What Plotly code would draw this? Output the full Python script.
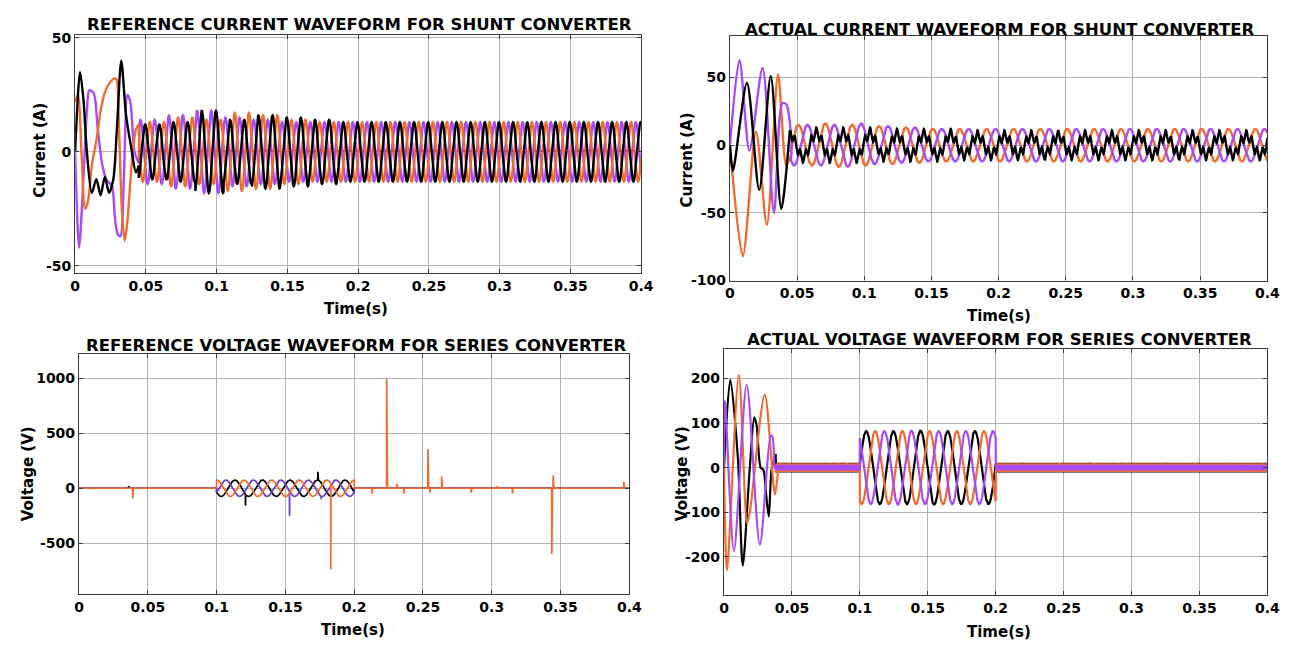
import numpy as np
import plotly.graph_objects as go

W, H = 1298, 646
DT = 0.0001
F0 = 50.0            # fundamental (20 ms period)
F_P1 = 100.0         # apparent frequency of the reference shunt current (≈14 px per cycle)
CYCLE = 0.02         # amplitude lists below hold one value per 20 ms
F_RIP = 1000.0       # switching ripple seen as a solid band

ORANGE = "#F26B2E"
PURPLE = "#A64BF5"
BLACK = "#000000"
DPURPLE = "#6A3DC8"
FONT = "DejaVu Sans"

X_TICKS = [0, 0.05, 0.1, 0.15, 0.2, 0.25, 0.3, 0.35, 0.4]
X_TICK_TEXT = ["0", "0.05", "0.1", "0.15", "0.2", "0.25", "0.3", "0.35", "0.4"]

# ---------------- Panel 1: reference current, shunt converter ----------------
P1_Y_TICKS = [-50, 0, 50]
P1_BLACK_KT = [0.000, 0.0035, 0.0060, 0.0083, 0.0118, 0.015, 0.018, 0.021, 0.024, 0.027, 0.0295, 0.0326, 0.036, 0.0396, 0.043, 0.045]
P1_BLACK_KV = [0, 35, 22, 0, -18, -12, -19, -11, -18, -12, 10, 40, 16, 2, -9, -6]
P1_ORANGE_KT = [0.000, 0.002, 0.0045, 0.007, 0.009, 0.012, 0.015, 0.018, 0.021, 0.024, 0.027, 0.029, 0.031, 0.033, 0.035, 0.037, 0.040, 0.043, 0.045]
P1_ORANGE_KV = [22, 25, 0, -25, -22, -5, 5, 18, 26, 30, 32, 32, 10, -25, -39, -30, -5, 10, 12]
P1_PURPLE_KT = [0.000, 0.0028, 0.006, 0.0085, 0.010, 0.013, 0.016, 0.019, 0.022, 0.026, 0.028, 0.030, 0.032, 0.0345, 0.037, 0.039, 0.042, 0.045]
P1_PURPLE_KV = [0, -42, -10, 20, 27, 26, 10, -5, -12, -15, -28, -36, -37, -10, 25, 22, 0, -5]
P1_T0 = 0.045
P1_BLACK_AMP = [12, 13, 18, 14, 16, 15, 14, 13, 13, 13, 13, 13, 13, 13, 13, 13, 13, 13]
P1_ORANGE_AMP = [13, 15, 14, 17, 16, 14, 13, 13, 13, 13, 13, 13, 13, 13, 13, 13, 13, 13]
P1_PURPLE_AMP = [14, 16, 18, 15, 14, 13, 13, 13, 13, 13, 13, 13, 13, 13, 13, 13, 13, 13]
P1_PEAK = [0.0495, 0.0528, 0.0462]   # black, orange, purple
P1_NEUTRAL = 0.5

# ---------------- Panel 2: actual current, shunt converter ----------------
P2_Y_TICKS = [-100, -50, 0, 50]
P2_PURPLE_KT = [0.000, 0.0071, 0.0145, 0.0243, 0.0328, 0.039, 0.042, 0.046]
P2_PURPLE_KV = [0, 63, -4, 57, -50, 31, 30, 0]
P2_ORANGE_KT = [0.000, 0.0096, 0.0194, 0.0275, 0.0358, 0.042, 0.046]
P2_ORANGE_KV = [0, -82, 10, -59, 52, -15, -5]
P2_BLACK_KT = [0.000, 0.0022, 0.0127, 0.0218, 0.0304, 0.0382, 0.0446]
P2_BLACK_KV = [0, -19, 46, -33, 51, -47, 11]
P2_T0 = 0.045
P2_BLACK_AMP = [9, 9, 9, 8, 8, 8, 7, 7, 7, 7, 7, 7, 7, 7, 7, 7, 7, 7]
P2_BLACK_H5 = 4.0
P2_ORANGE_AMP = [15, 16, 15, 14, 13, 12, 12, 12, 12, 12, 12, 12, 12, 12, 12, 12, 12, 12]
P2_PURPLE_AMP = [15, 15, 16, 14, 13, 12, 12, 12, 12, 12, 12, 12, 12, 12, 12, 12, 12, 12]
P2_PEAK = [0.0443, 0.0510, 0.0577]   # black, orange, purple

# ---------------- Panel 3: reference voltage, series converter ----------------
P3_Y_TICKS = [-500, 0, 500, 1000]
P3_SAG_T = [0.1, 0.2]
P3_BLACK_AMP = [75, 75, 75, 75, 75]
P3_DPURPLE_AMP = [75, 75, 75, 75, 75]
P3_ORANGE_AMP = [75, 75, 75, 75, 75]
P3_PEAK = [0.1133, 0.1067, 0.1000]   # black, dark purple, orange
P3_ORANGE_SPIKE_T = [0.039, 0.183, 0.213, 0.2236, 0.231, 0.236, 0.2536, 0.255, 0.2636, 0.285, 0.304, 0.315, 0.3436, 0.3446, 0.396]
P3_ORANGE_SPIKE_V = [-90, -740, -50, 1000, 40, -50, 357, -40, 107, -40, 20, -50, -600, 116, 60]
P3_BLACK_SPIKE_T = [0.036, 0.121, 0.1736]
P3_BLACK_SPIKE_V = [20, -160, 150]
P3_DPURPLE_SPIKE_T = [0.153, 0.176]
P3_DPURPLE_SPIKE_V = [-250, -100]

# ---------------- Panel 4: actual voltage, series converter ----------------
P4_Y_TICKS = [-200, -100, 0, 100, 200]
P4_BLACK_KT = [0.000, 0.0046, 0.0102, 0.0138, 0.019, 0.0223, 0.024, 0.027, 0.029, 0.031, 0.033, 0.035, 0.038]
P4_BLACK_KV = [0, 197, 22, -220, 0, 113, 95, 0, -5, -60, -110, -5, 30]
P4_ORANGE_KT = [0.000, 0.0022, 0.0109, 0.017, 0.019, 0.030, 0.0375, 0.040]
P4_ORANGE_KV = [0, -231, 208, -125, -100, 164, -60, 0]
P4_PURPLE_KT = [0.000, 0.0007, 0.0073, 0.0167, 0.0264, 0.0344, 0.0355, 0.037]
P4_PURPLE_KV = [0, 150, -187, 186, -173, 72, 70, 0]
P4_T0 = 0.038
P4_SAG_T = [0.1, 0.2]
P4_BLACK_AMP = [82, 82, 83, 82, 82]
P4_ORANGE_AMP = [82, 82, 82, 82, 82]
P4_PURPLE_AMP = [82, 83, 82, 82, 82]
P4_PEAK = [0.1047, 0.1113, 0.1180]   # black, orange, purple
P4_RIPPLE = [11, 10, 6]               # black, orange, purple band half-width


def steady(t0, t1, amps, peak_t, freq=F0, h5=0.0):
    t = np.arange(t0, t1 + DT / 2, DT)
    k = np.clip(((t - t0) / CYCLE).astype(int), 0, len(amps) - 1)
    a = np.asarray(amps, float)[k]
    ph = 2 * np.pi * freq * (t - peak_t)
    return t, a * np.cos(ph) + h5 * np.cos(5 * ph)


def ripple(t0, t1, amp, phase):
    t = np.arange(t0, t1 + DT / 2, DT)
    return t, amp * np.cos(2 * np.pi * F_RIP * t + phase)


def px_x(p):
    return p / W


def px_y(p):
    return 1 - p / H


fig = go.Figure()

DOMS = {
    1: (63, 637, 22, 265),
    2: (727, 1272, 23, 273),
    3: (67, 625, 348, 593),
    4: (721, 1272, 343, 594),
}
YR = {1: [-53, 51.5], 2: [-100, 81], 3: [-964, 1223], 4: [-286, 266]}
YT = {1: P1_Y_TICKS, 2: P2_Y_TICKS, 3: P3_Y_TICKS, 4: P4_Y_TICKS}


def ax(i):
    return ("x" if i == 1 else f"x{i}"), ("y" if i == 1 else f"y{i}")


def add(i, t, v, color, width=2.0, shape="linear", dash="solid"):
    xa, ya = ax(i)
    line = dict(color=color, width=width, shape=shape, dash=dash)
    if shape == "spline":
        line["smoothing"] = 0.8
    fig.add_trace(go.Scatter(x=t, y=v, mode="lines", xaxis=xa, yaxis=ya, line=line,
                             hoverinfo="skip", showlegend=False))


def wave(i, kt, kv, t0, amps, peak, color, freq=F0, h5=0.0, width=2.4):
    add(i, kt, kv, color, width, shape="spline")
    t, v = steady(t0, 0.4, amps, peak, freq, h5)
    add(i, np.concatenate([[kt[-1]], t]), np.concatenate([[kv[-1]], v]), color, width)


# ---- panel 1
wave(1, P1_PURPLE_KT, P1_PURPLE_KV, P1_T0, P1_PURPLE_AMP, P1_PEAK[2], PURPLE, freq=F_P1)
wave(1, P1_ORANGE_KT, P1_ORANGE_KV, P1_T0, P1_ORANGE_AMP, P1_PEAK[1], ORANGE, freq=F_P1)
wave(1, P1_BLACK_KT, P1_BLACK_KV, P1_T0, P1_BLACK_AMP, P1_PEAK[0], BLACK, freq=F_P1)
add(1, [P1_T0, 0.4], [P1_NEUTRAL, P1_NEUTRAL], "#B0301E", width=1.2, dash="dot")

# ---- panel 2
wave(2, P2_ORANGE_KT, P2_ORANGE_KV, P2_T0, P2_ORANGE_AMP, P2_PEAK[1], ORANGE)
wave(2, P2_PURPLE_KT, P2_PURPLE_KV, P2_T0, P2_PURPLE_AMP, P2_PEAK[2], PURPLE)
wave(2, P2_BLACK_KT, P2_BLACK_KV, P2_T0, P2_BLACK_AMP, P2_PEAK[0], BLACK, h5=P2_BLACK_H5)


# ---- panel 3
def ref_voltage(amps, peak, spike_t, spike_v):
    t = np.arange(0, 0.4 + DT / 2, DT)
    v = np.zeros_like(t)
    ts, vs = steady(P3_SAG_T[0], P3_SAG_T[1], amps, peak)
    i0 = int(round(P3_SAG_T[0] / DT))
    v[i0:i0 + len(vs)] = vs
    for st, sv in zip(spike_t, spike_v):
        v[int(round(st / DT))] = sv
    return t, v


for amps, pk, stt, svv, col in [
    (P3_BLACK_AMP, P3_PEAK[0], P3_BLACK_SPIKE_T, P3_BLACK_SPIKE_V, BLACK),
    (P3_DPURPLE_AMP, P3_PEAK[1], P3_DPURPLE_SPIKE_T, P3_DPURPLE_SPIKE_V, DPURPLE),
    (P3_ORANGE_AMP, P3_PEAK[2], P3_ORANGE_SPIKE_T, P3_ORANGE_SPIKE_V, ORANGE),
]:
    t, v = ref_voltage(amps, pk, stt, svv)
    add(3, t, v, col, width=1.7)


# ---- panel 4
def act_voltage(amps, peak, rip, phase):
    t1, v1 = ripple(P4_T0, P4_SAG_T[0] - DT, rip, phase)
    t2, v2 = steady(P4_SAG_T[0], P4_SAG_T[1], amps, peak)
    t3, v3 = ripple(P4_SAG_T[1] + DT, 0.4, rip, phase)
    return np.concatenate([t1, t2, t3]), np.concatenate([v1, v2, v3])


for kt, kv, amps, pk, rip, phs, col in [
    (P4_BLACK_KT, P4_BLACK_KV, P4_BLACK_AMP, P4_PEAK[0], P4_RIPPLE[0], 0.0, BLACK),
    (P4_ORANGE_KT, P4_ORANGE_KV, P4_ORANGE_AMP, P4_PEAK[1], P4_RIPPLE[1], 2.1, ORANGE),
    (P4_PURPLE_KT, P4_PURPLE_KV, P4_PURPLE_AMP, P4_PEAK[2], P4_RIPPLE[2], 4.2, PURPLE),
]:
    add(4, kt, kv, col, width=2.2, shape="spline")
    t, v = act_voltage(amps, pk, rip, phs)
    add(4, np.concatenate([[kt[-1]], t]), np.concatenate([[kv[-1]], v]), col, width=2.2)

# ---- axes
layout = {}
for i, (l, r, tp, bt) in DOMS.items():
    xk = "xaxis" if i == 1 else f"xaxis{i}"
    yk = "yaxis" if i == 1 else f"yaxis{i}"
    xa, ya = ax(i)
    common = dict(showgrid=True, gridcolor="#B4B4B4", gridwidth=1,
                  showline=True, linecolor="#3A3A3A", linewidth=1.3, mirror="ticks",
                  ticks="inside", ticklen=4, tickcolor="#3A3A3A",
                  tickfont=dict(family=FONT, size=14, color="black", weight="bold"),
                  zeroline=False, fixedrange=True)
    layout[xk] = dict(domain=[px_x(l), px_x(r)], range=[0, 0.4], anchor=ya,
                      tickvals=X_TICKS, ticktext=X_TICK_TEXT, **common)
    layout[yk] = dict(domain=[px_y(bt), px_y(tp)], range=YR[i], anchor=xa,
                      tickvals=YT[i], ticktext=[str(v) for v in YT[i]], **common)

TITLES = [
    ("REFERENCE CURRENT WAVEFORM FOR SHUNT CONVERTER", 351, 12),
    ("ACTUAL CURRENT WAVEFORM FOR SHUNT CONVERTER", 1000, 17),
    ("REFERENCE VOLTAGE WAVEFORM FOR SERIES CONVERTER", 348, 339),
    ("ACTUAL VOLTAGE WAVEFORM FOR SERIES CONVERTER", 1000, 333),
]
XLABELS = [("Time(s)", 348, 302), ("Time(s)", 1000, 309), ("Time(s)", 345, 630), ("Time(s)", 1000, 632)]
YLABELS = [("Current (A)", 28, 140), ("Current (A)", 683, 150), ("Voltage (V)", 15, 470), ("Voltage (V)", 678, 470)]

ann = []
for txt, x, y in TITLES:
    ann.append(dict(text=txt, x=px_x(x), y=px_y(y), xref="paper", yref="paper", showarrow=False,
                    xanchor="center", yanchor="middle",
                    font=dict(family=FONT, size=16.5, color="black", weight="bold")))
for txt, x, y in XLABELS:
    ann.append(dict(text=txt, x=px_x(x), y=px_y(y), xref="paper", yref="paper", showarrow=False,
                    xanchor="center", yanchor="middle",
                    font=dict(family=FONT, size=15, color="black", weight="bold")))
for txt, x, y in YLABELS:
    ann.append(dict(text=txt, x=px_x(x), y=px_y(y), xref="paper", yref="paper", showarrow=False,
                    xanchor="center", yanchor="middle", textangle=-90,
                    font=dict(family=FONT, size=15, color="black", weight="bold")))

fig.update_layout(width=W, height=H, margin=dict(l=0, r=0, t=0, b=0),
                  paper_bgcolor="white", plot_bgcolor="white",
                  annotations=ann, showlegend=False, **layout)

fig.write_html("out.html")
